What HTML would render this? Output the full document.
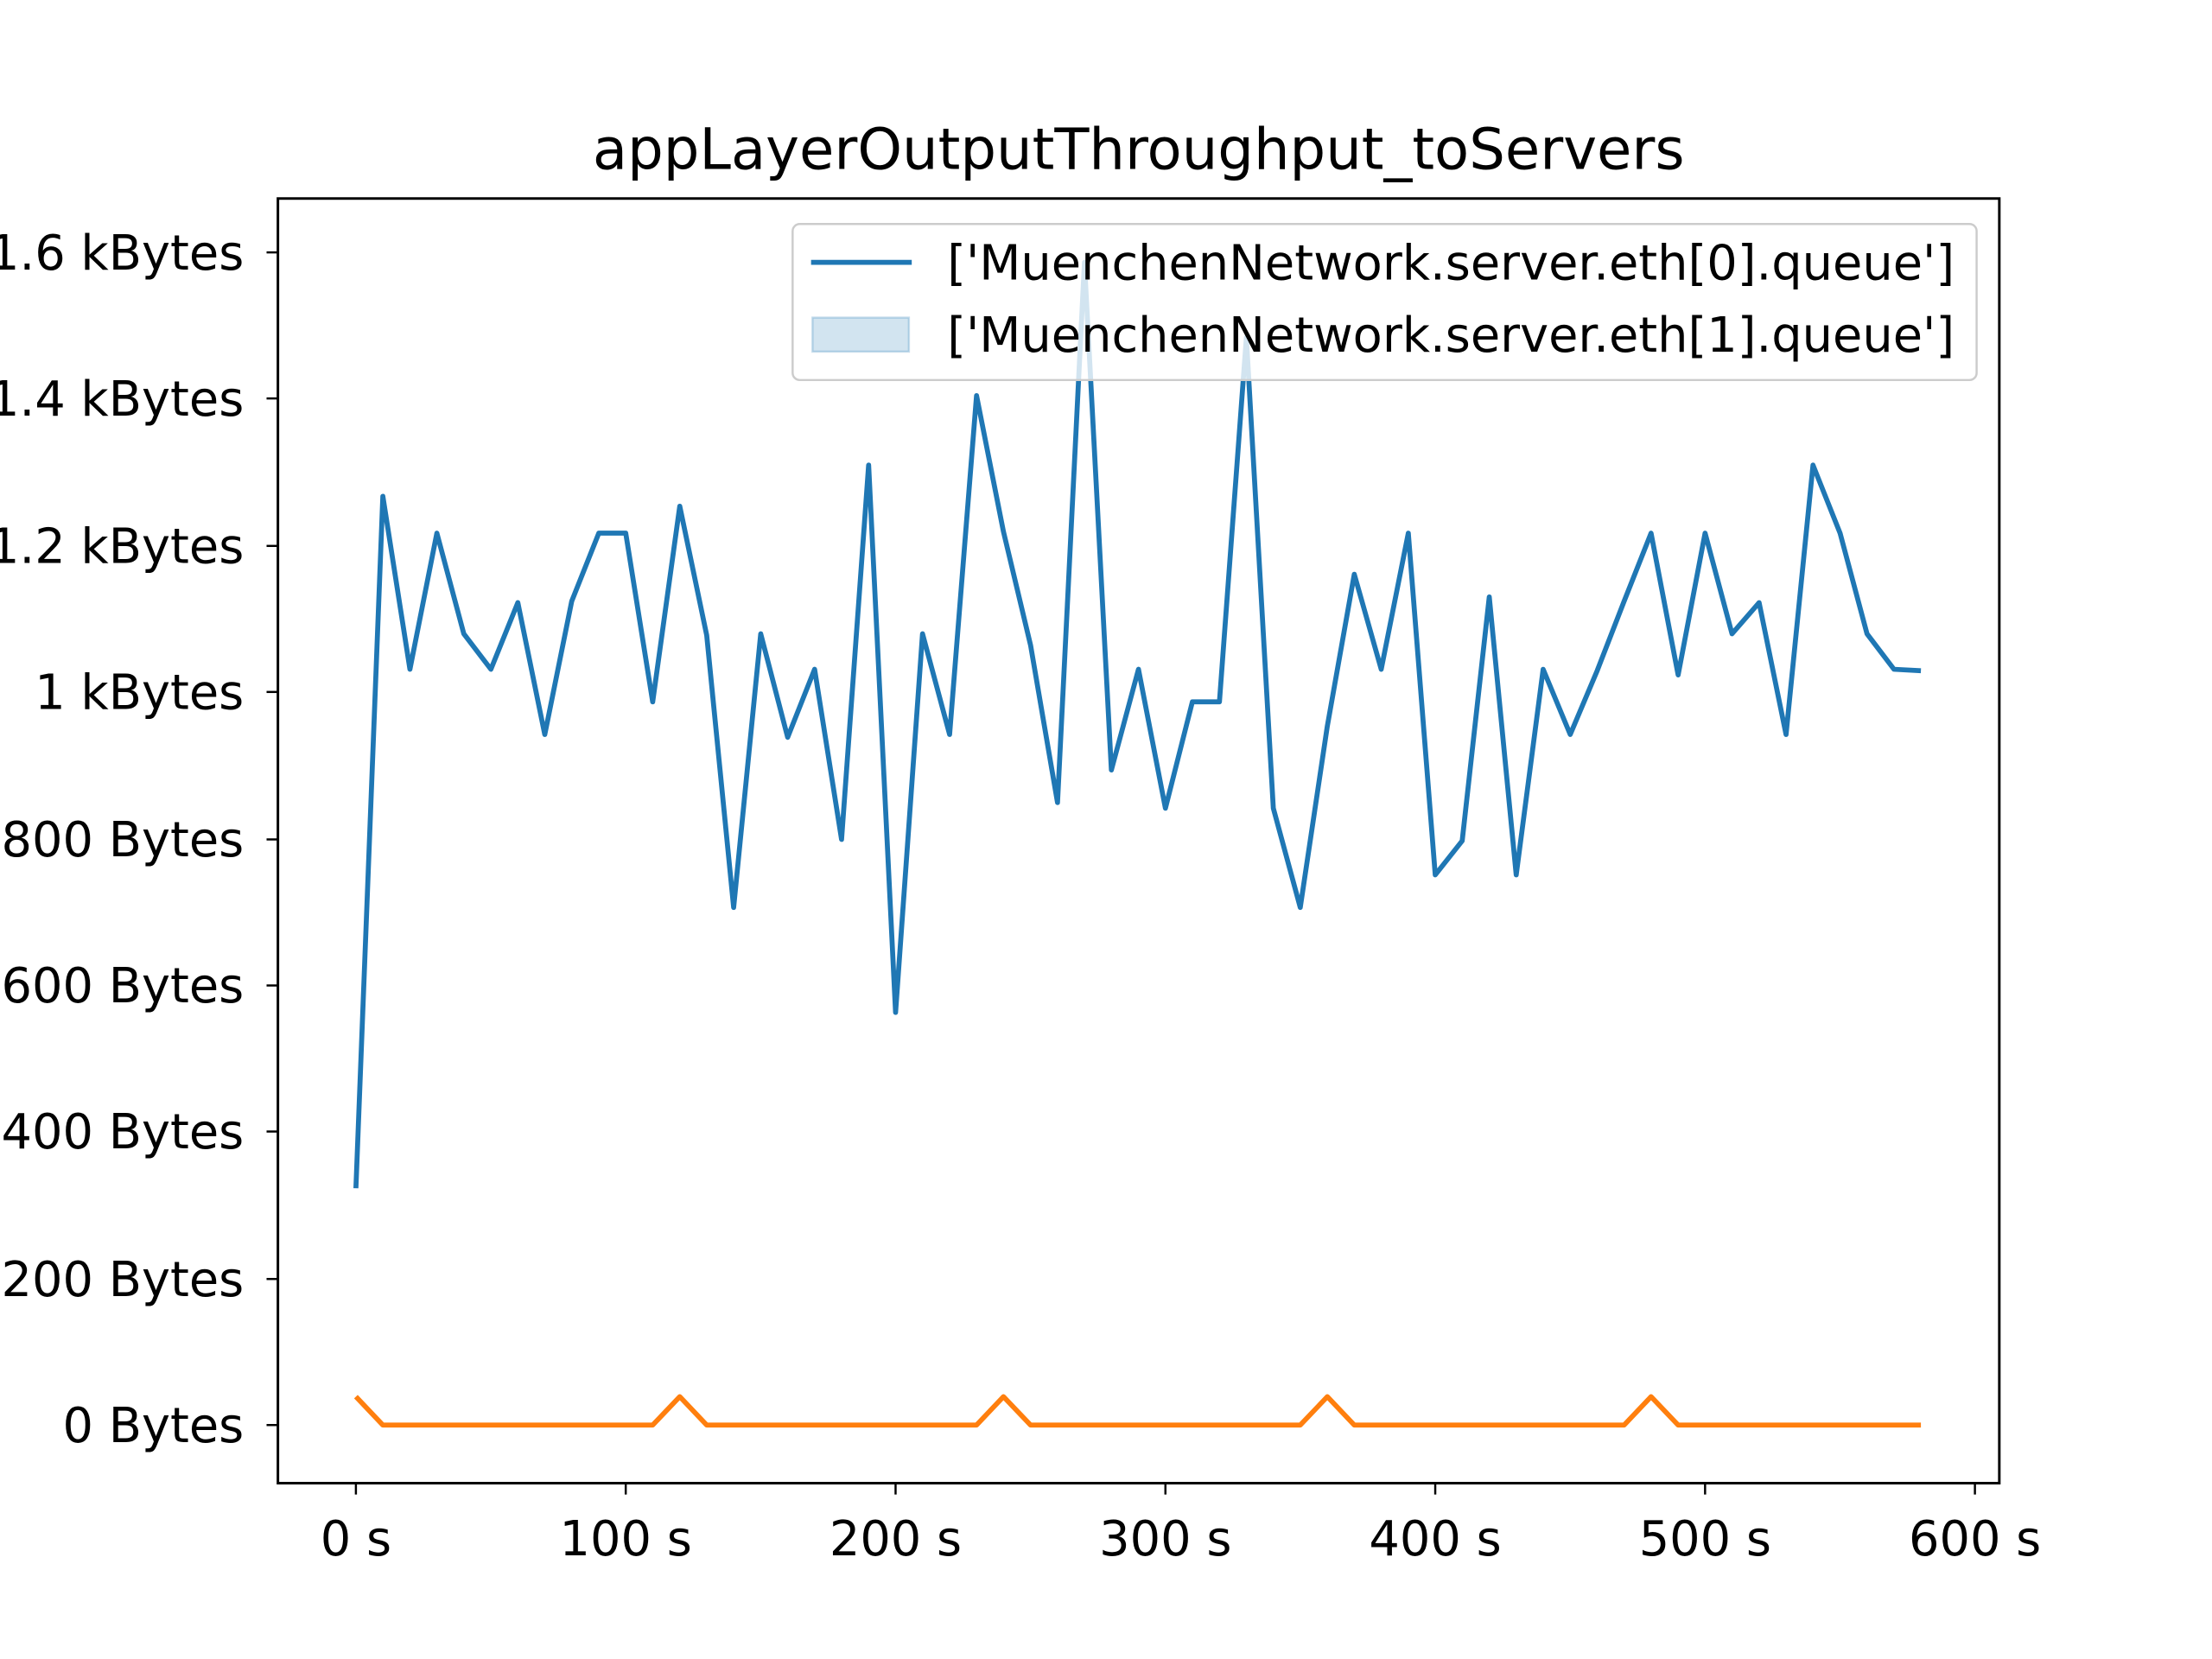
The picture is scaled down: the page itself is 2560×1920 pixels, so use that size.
<!DOCTYPE html>
<html><head><meta charset="utf-8"><style>html,body{margin:0;padding:0;background:#fff}svg{display:block}</style></head>
<body>
<svg width="2560" height="1920" viewBox="0 0 1560 1170" xmlns="http://www.w3.org/2000/svg" font-family="'DejaVu Sans','Liberation Sans',sans-serif">
<rect width="1560" height="1170" fill="#fff"/>
<text x="803" y="119" font-size="40" text-anchor="middle" fill="#000">appLayerOutputThroughput_toServers</text>
<g stroke="#000" stroke-width="1.5">
<line x1="188" y1="1005" x2="196" y2="1005"/><line x1="188" y1="902" x2="196" y2="902"/>
<line x1="188" y1="798" x2="196" y2="798"/><line x1="188" y1="695" x2="196" y2="695"/>
<line x1="188" y1="592" x2="196" y2="592"/><line x1="188" y1="488" x2="196" y2="488"/>
<line x1="188" y1="385" x2="196" y2="385"/><line x1="188" y1="281" x2="196" y2="281"/>
<line x1="188" y1="178" x2="196" y2="178"/>
<line x1="251" y1="1046" x2="251" y2="1054"/><line x1="441.3" y1="1046" x2="441.3" y2="1054"/>
<line x1="631.6" y1="1046" x2="631.6" y2="1054"/><line x1="821.9" y1="1046" x2="821.9" y2="1054"/>
<line x1="1012.2" y1="1046" x2="1012.2" y2="1054"/><line x1="1202.5" y1="1046" x2="1202.5" y2="1054"/>
<line x1="1392.8" y1="1046" x2="1392.8" y2="1054"/>
</g>
<g font-size="34" fill="#000" text-anchor="end">
<text x="172" y="1017">0 Bytes</text><text x="172" y="914">200 Bytes</text>
<text x="172" y="810">400 Bytes</text><text x="172" y="707">600 Bytes</text>
<text x="172" y="604">800 Bytes</text><text x="172" y="500">1 kBytes</text>
<text x="172" y="397">1.2 kBytes</text><text x="172" y="293">1.4 kBytes</text>
<text x="172" y="190">1.6 kBytes</text>
</g>
<g font-size="34" fill="#000" text-anchor="middle">
<text x="251" y="1097">0 s</text><text x="441.3" y="1097">100 s</text>
<text x="631.6" y="1097">200 s</text><text x="821.9" y="1097">300 s</text>
<text x="1012.2" y="1097">400 s</text><text x="1202.5" y="1097">500 s</text>
<text x="1392.8" y="1097">600 s</text>
</g>
<polyline fill="none" stroke="#1f77b4" stroke-width="3.5" stroke-linejoin="round" points="251,838 270,350 289.1,472 308.1,376 327.1,447 346.2,472 365.2,425 384.2,518 403.2,424 422.3,376 441.3,376 460.3,495 479.4,357 498.4,448 517.4,640 536.5,447 555.5,520 574.5,472 593.5,592 612.6,328 631.6,714 650.6,447 669.7,518 688.7,279 707.7,375 726.8,455 745.8,566 764.8,185 783.8,543 802.9,472 821.9,570 840.9,495 860,495 879,238 898,570 917,640 936.1,512 955.1,405 974.1,472 993.2,376 1012.2,617 1031.2,593 1050.3,421 1069.3,617 1088.3,472 1107.4,518 1126.4,473 1145.4,424 1164.4,376 1183.5,476 1202.5,376 1221.5,447 1240.6,425 1259.6,518 1278.6,328 1297.7,376 1316.7,447 1335.7,472 1354.7,473"/>
<polyline fill="none" stroke="#ff7f0e" stroke-width="3.5" stroke-linejoin="round" points="251,985 270,1005 460.3,1005 479.4,985 498.4,1005 688.7,1005 707.7,985 726.8,1005 917,1005 936.1,985 955.1,1005 1145.4,1005 1164.4,985 1183.5,1005 1354.7,1005"/>
<rect x="559" y="158" width="835" height="110" rx="5" fill="#fff" fill-opacity="0.8" stroke="#ccc" stroke-width="1.5"/>
<line x1="572" y1="185" x2="643" y2="185" stroke="#1f77b4" stroke-width="3.5"/>
<rect x="573" y="224" width="68" height="24" fill="#1f77b4" fill-opacity="0.2" stroke="#1f77b4" stroke-opacity="0.25" stroke-width="1.5"/>
<g font-size="34" fill="#000">
<text x="668" y="197">['MuenchenNetwork.server.eth[0].queue']</text>
<text x="668" y="248">['MuenchenNetwork.server.eth[1].queue']</text>
</g>
<rect x="196" y="140" width="1214" height="906" fill="none" stroke="#000" stroke-width="1.8"/>
</svg>
</body></html>
